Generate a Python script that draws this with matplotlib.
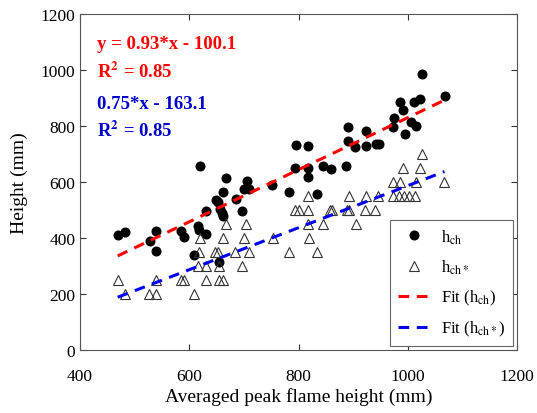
import numpy as np
import matplotlib
matplotlib.use("Agg")
import matplotlib.pyplot as plt

# measured points (averaged peak flame height, height) in mm
hch_x = [469, 482, 528, 539, 539, 585, 590, 608, 616, 617, 619, 630, 630, 648, 653,
         654, 657, 659, 661, 661, 667, 686, 696, 700, 705, 710, 752, 782, 793, 796,
         817, 818, 818, 833, 845, 859, 886, 891, 891, 904, 924, 924, 941, 947, 974,
         973, 986, 992, 994, 1005, 1015, 1012, 1023, 1026, 1068]
hch_y = [411, 421, 391, 425, 354, 425, 404, 339, 443, 430, 657, 414, 498, 537, 527,
         314, 504, 489, 477, 564, 614, 539, 498, 575, 604, 575, 589, 566, 650, 732,
         729, 650, 618, 556, 657, 645, 657, 796, 746, 725, 782, 729, 736, 736, 830,
         796, 886, 857, 771, 814, 800, 886, 896, 986, 907]

hchs_x = [482, 526, 539, 608,
          469, 539, 584, 590, 630, 654, 661,
          616, 630, 655, 696,
          617, 647, 652, 684, 709, 782, 833,
          619, 661, 700, 753, 820,
          667, 703, 817, 844, 906,
          793, 800, 818, 857, 861, 888, 893, 922, 940,
          817, 892, 923, 945, 972, 983, 993, 1003, 1013,
          973, 986, 1014, 1067,
          992, 1023,
          1026]
hchs_y = [200] * 4 + [250] * 7 + [300] * 4 + [350] * 7 + [400] * 5 + [450] * 5 + \
         [500] * 9 + [550] * 9 + [600] * 4 + [650] * 2 + [700]

# fit coefficients as printed on the chart
fit1 = (0.93, -100.1)
fit2 = (0.75, -163.1)

plt.rcParams['font.family'] = ['Liberation Serif', 'DejaVu Serif']
plt.rcParams['mathtext.fontset'] = 'stix'

fig = plt.figure(figsize=(5.37, 4.14), dpi=100)
ax = fig.add_axes([0.149, 0.152, 0.814, 0.812])

ax.plot(hch_x, hch_y, 'o', color='black', ms=6.2, label=r'h$_{\rm ch}$')
ax.plot(hchs_x, hchs_y, '^', mfc='none', mec='#333333', mew=0.8, ms=7.5,
        label=r'h$_{\rm ch*}$')

xf1 = np.array([min(hch_x), max(hch_x)])
xf2 = np.array([min(hchs_x), max(hchs_x)])
dash = (3.5, 2.5)
ax.plot(xf1, fit1[0] * xf1 + fit1[1], '--', color='red', lw=2.2, dashes=dash,
        label=r'Fit (h$_{\rm ch}$)')
ax.plot(xf2, fit2[0] * xf2 + fit2[1], '--', color='#0000ee', lw=2.2, dashes=dash,
        label=r'Fit (h$_{\rm ch*}$)')

tx = 0.04
ax.text(tx, 0.911, 'y = %.2f*x - %.1f' % (fit1[0], -fit1[1]), transform=ax.transAxes,
        color='red', fontsize=13.5, fontweight='bold', va='center')
ax.text(tx, 0.830, r'R$^{\mathbf{2}}$ = 0.85', transform=ax.transAxes,
        color='red', fontsize=13.5, fontweight='bold', va='center')
ax.text(tx, 0.732, '%.2f*x - %.1f' % (fit2[0], -fit2[1]), transform=ax.transAxes,
        color='#0000cc', fontsize=13.5, fontweight='bold', va='center')
ax.text(tx, 0.655, r'R$^{\mathbf{2}}$ = 0.85', transform=ax.transAxes,
        color='#0000cc', fontsize=13.5, fontweight='bold', va='center')

ax.set_xlim(400, 1200)
ax.set_ylim(0, 1200)
ax.set_xticks([400, 600, 800, 1000, 1200])
ax.set_yticks([0, 200, 400, 600, 800, 1000, 1200])
ax.tick_params(direction='in', top=True, right=True, length=4, width=0.8,
               labelsize=12.5, colors='#333333', labelcolor='black')
ax.tick_params(axis='x', pad=13)
for s in ax.spines.values():
    s.set_color('#555555')
    s.set_linewidth(0.8)

ax.set_xlabel('Averaged peak flame height (mm)', fontsize=14, labelpad=2)
ax.set_ylabel('Height (mm)', fontsize=14, labelpad=9)

leg = ax.legend(loc='lower right', fontsize=12, borderaxespad=0.25, labelspacing=0.72,
                handletextpad=0.6, handlelength=2.0, borderpad=0.45,
                fancybox=False, framealpha=1)
leg.get_frame().set_edgecolor('#666666')
leg.get_frame().set_linewidth(0.8)

fig.savefig('out.png', dpi=100)
